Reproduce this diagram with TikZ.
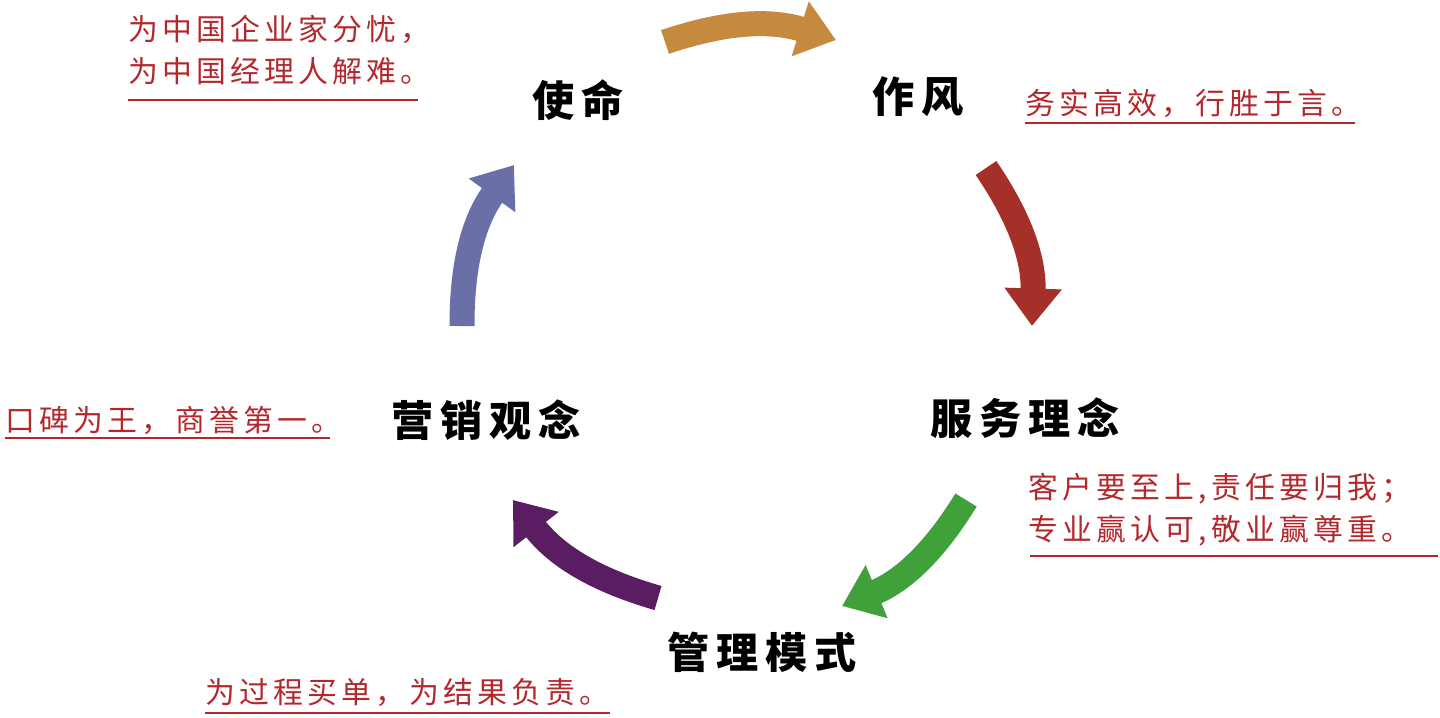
\documentclass[tikz,border=0pt]{standalone}
\usepackage{fontspec}
\setmainfont{Noto Sans CJK SC}
\newfontfamily\cjk{Noto Sans CJK SC}
\newfontfamily\cjkspaced[LetterSpace=14]{Noto Sans CJK SC}
\newfontfamily\cjkwide[LetterSpace=16]{Noto Sans CJK SC}
\usetikzlibrary{arrows.meta,positioning}
\definecolor{arrowgold}{HTML}{C68A3E}
\definecolor{arrowred}{HTML}{A5302A}
\definecolor{arrowgreen}{HTML}{40A03A}
\definecolor{arrowpurple}{HTML}{5A1D62}
\definecolor{arrowblue}{HTML}{6B6FA8}
\definecolor{notered}{HTML}{B3282D}

\begin{document}
\begin{tikzpicture}[x=0.02cm, y=-0.02cm,
    title/.style={font=\cjkwide\bfseries\fontsize{24}{28}\selectfont, text=black, inner sep=0pt},
    note/.style={font=\cjkspaced\fontsize{17}{24}\selectfont, text=notered, inner sep=0pt, align=left},
    rule/.style={draw=notered, line width=0.9pt},
    block/.style={line width=0.5cm, -{Triangle[width=1.1cm, length=0.75cm]}, bend left=18}
]
    \useasboundingbox (0,0) rectangle (1440,717);

    % main labels
    \node[title] (mission) at (578,100) {使命};
    \node[title] (style) at (918,97) {作风};
    \node[title] (service) at (1025,418) {服务理念};
    \node[title] (manage) at (762,652) {管理模式};
    \node[title] (market) at (486,420) {营销观念};

    % notes
    \node[note, anchor=west] (n1) at (128,50) {为中国企业家分忧，\\为中国经理人解难。};
    \node[note, anchor=west] (n2) at (1025,103) {务实高效，行胜于言。};
    \node[note, anchor=west] (n3) at (1028,510) {客户要至上,责任要归我；\\专业赢认可,敬业赢尊重。};
    \node[note, anchor=west] (n4) at (205,693) {为过程买单，为结果负责。};
    \node[note, anchor=west] (n5) at (5,420) {口碑为王，商誉第一。};

    \draw[rule] (128,100) -- (418,100);
    \draw[rule] (1025,123) -- (1355,123);
    \draw[rule] (1030,556) -- (1438,556);
    \draw[rule] (205,713) -- (610,713);
    \draw[rule] (5,438) -- (330,438);

    % cycle arrows
    \coordinate (a1) at (665,42);  \coordinate (b1) at (836,40);
    \coordinate (a2) at (986,168); \coordinate (b2) at (1032,326);
    \coordinate (a3) at (966,500); \coordinate (b3) at (842,606);
    \coordinate (a4) at (658,598); \coordinate (b4) at (513,500);
    \coordinate (a5) at (462,326); \coordinate (b5) at (514,165);

    \draw[block, arrowgold] (a1) to (b1);
    \draw[block, arrowred] (a2) to (b2);
    \draw[block, arrowgreen] (a3) to (b3);
    \draw[block, arrowpurple] (a4) to (b4);
    \draw[block, arrowblue] (a5) to (b5);
\end{tikzpicture}
\end{document}
